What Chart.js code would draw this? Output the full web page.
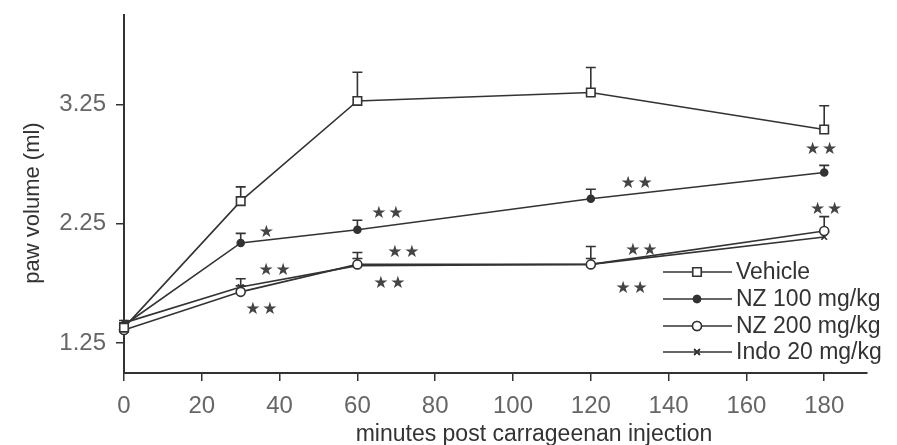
<!DOCTYPE html>
<html>
<head>
<meta charset="utf-8">
<script src="https://cdn.jsdelivr.net/npm/chart.js@4.4.0/dist/chart.umd.min.js"></script>
<style>
  html, body { margin: 0; padding: 0; background: #fff; }
  #wrap { width: 897px; height: 445px; position: relative; }
</style>
</head>
<body>
<div id="wrap"><canvas id="pawChart" width="897" height="445"></canvas></div>
<script>
// time points (minutes post carrageenan injection)
const times = [0, 30, 60, 120, 180];

// paw volume (ml) means and upper error (SEM) per group
const vehicle = [1.38, 2.44, 3.28, 3.35, 3.04];
const vehicleErr = [0.03, 0.12, 0.24, 0.21, 0.20];
const nz100 = [1.40, 2.09, 2.20, 2.46, 2.68];
const nz100Err = [0.02, 0.08, 0.08, 0.08, 0.06];
const nz200 = [1.36, 1.68, 1.91, 1.91, 2.19];
const nz200Err = [0.02, 0.05, 0.10, 0.15, 0.12];
const indo = [1.42, 1.72, 1.90, 1.91, 2.14];
const indoErr = [0.02, 0.07, 0.06, 0.05, 0.04];

const groupNames = ["Vehicle", "NZ 100 mg/kg", "NZ 200 mg/kg", "Indo 20 mg/kg"];

// axis ticks and titles
const xTicks = [0, 20, 40, 60, 80, 100, 120, 140, 160, 180];
const yTicks = [1.25, 2.25, 3.25];
const xTitle = "minutes post carrageenan injection";
const yTitle = "paw volume (ml)";

// significance marks (text, minute, ml)
const sigText = ["*", "**", "**", "**", "**", "**", "**", "**", "**", "**", "**"];
const sigX = [36.6, 67.7, 131.8, 179.2, 38.7, 35.3, 71.8, 68.2, 133, 130.5, 180.5];
const sigY = [2.18, 2.34, 2.59, 2.87, 1.86, 1.53, 2.01, 1.75, 2.03, 1.71, 2.37];

const ink = "#333333";
const sans = "'Liberation Sans', Arial, sans-serif";

function series(values, errs, label, style, radius, fill) {
  return {
    label: label,
    data: times.map((t, i) => ({ x: t, y: values[i] })),
    errs: errs,
    borderColor: ink,
    borderWidth: 1.6,
    pointStyle: style,
    pointRadius: radius,
    pointBorderWidth: 1.6,
    pointBorderColor: ink,
    pointBackgroundColor: fill,
    tension: 0,
    clip: false,
  };
}

// upward error bars
const errorBars = {
  id: "errorBars",
  beforeDatasetsDraw(chart) {
    const ctx = chart.ctx;
    const y = chart.scales.y;
    ctx.save();
    ctx.strokeStyle = ink;
    ctx.lineWidth = 1.6;
    chart.data.datasets.forEach((ds, di) => {
      const meta = chart.getDatasetMeta(di);
      meta.data.forEach((pt, i) => {
        const top = y.getPixelForValue(ds.data[i].y + ds.errs[i]);
        ctx.beginPath();
        ctx.moveTo(pt.x, pt.y);
        ctx.lineTo(pt.x, top);
        ctx.moveTo(pt.x - 5, top);
        ctx.lineTo(pt.x + 5, top);
        ctx.stroke();
      });
    });
    ctx.restore();
  },
};

// asterisks, drawn as star glyphs
const sigMarks = {
  id: "sigMarks",
  afterDatasetsDraw(chart) {
    const ctx = chart.ctx;
    const { x, y } = chart.scales;
    ctx.save();
    ctx.fillStyle = "#444";
    ctx.font = "17px 'DejaVu Sans', sans-serif";
    ctx.textAlign = "center";
    ctx.textBaseline = "middle";
    sigText.forEach((t, i) => {
      const cx = x.getPixelForValue(sigX[i]);
      const cy = y.getPixelForValue(sigY[i]);
      const n = t.length;
      for (let k = 0; k < n; k++) {
        ctx.fillText("\u2605", cx + (k - (n - 1) / 2) * 17, cy);
      }
    });
    ctx.restore();
  },
};

// legend (line through marker) and axis titles
const lineLegend = {
  id: "lineLegend",
  afterDraw(chart) {
    const ctx = chart.ctx;
    const rows = [272, 299, 326, 352];
    ctx.save();
    chart.data.datasets.forEach((ds, i) => {
      const yy = rows[i];
      ctx.strokeStyle = ink;
      ctx.lineWidth = 1.6;
      ctx.beginPath();
      ctx.moveTo(663, yy);
      ctx.lineTo(732, yy);
      ctx.stroke();
      Chart.helpers.drawPoint(ctx, {
        pointStyle: ds.pointStyle,
        radius: ds.pointRadius,
        borderWidth: 1.6,
      }, 697, yy);
      ctx.fillStyle = ds.pointBackgroundColor;
      ctx.fill();
      ctx.stroke();
      ctx.fillStyle = "#333";
      ctx.font = "23px " + sans;
      ctx.textAlign = "left";
      ctx.textBaseline = "middle";
      ctx.fillText(groupNames[i], 736, yy + 1);
    });

    ctx.fillStyle = "#333";
    ctx.textAlign = "center";
    ctx.textBaseline = "middle";
    ctx.font = "23px " + sans;
    ctx.fillText(xTitle, 534, 435);
    ctx.translate(33, 203);
    ctx.rotate(-Math.PI / 2);
    ctx.font = "22px " + sans;
    ctx.fillText(yTitle, 0, 0);
    ctx.restore();
  },
};

new Chart(document.getElementById("pawChart"), {
  type: "line",
  data: {
    datasets: [
      series(vehicle, vehicleErr, groupNames[0], "rect", 6, "#ffffff"),
      series(nz100, nz100Err, groupNames[1], "circle", 3.5, ink),
      series(nz200, nz200Err, groupNames[2], "circle", 4.5, "#ffffff"),
      series(indo, indoErr, groupNames[3], "crossRot", 4, ink),
    ],
  },
  options: {
    responsive: false,
    animation: false,
    layout: { padding: { top: 15, right: 30, left: 0, bottom: 0 } },
    plugins: {
      legend: { display: false },
      tooltip: { enabled: false },
    },
    scales: {
      x: {
        type: "linear",
        min: 0,
        max: 191,
        afterBuildTicks: (s) => { s.ticks = xTicks.map((v) => ({ value: v })); },
        afterFit: (s) => { s.height = 72; s.paddingLeft = 0; s.paddingRight = 0; },
        border: { display: true, color: ink, width: 2 },
        grid: { drawOnChartArea: false, drawTicks: true, tickLength: 8, color: ink, lineWidth: 1.5 },
        ticks: {
          color: "#666",
          padding: 11,
          maxRotation: 0,
          font: { family: sans, size: 24 },
        },
      },
      y: {
        type: "linear",
        min: 1.0,
        max: 4.0,
        afterBuildTicks: (s) => { s.ticks = yTicks.map((v) => ({ value: v })); },
        afterFit: (s) => { s.width = 124; s.paddingTop = 0; s.paddingBottom = 0; },
        border: { display: true, color: ink, width: 2 },
        grid: { drawOnChartArea: false, drawTicks: true, tickLength: 8, color: ink, lineWidth: 1.5 },
        ticks: {
          color: "#666",
          padding: 10,
          callback: (v) => v.toFixed(2),
          font: { family: sans, size: 24 },
        },
      },
    },
  },
  plugins: [errorBars, sigMarks, lineLegend],
});
</script>
</body>
</html>
